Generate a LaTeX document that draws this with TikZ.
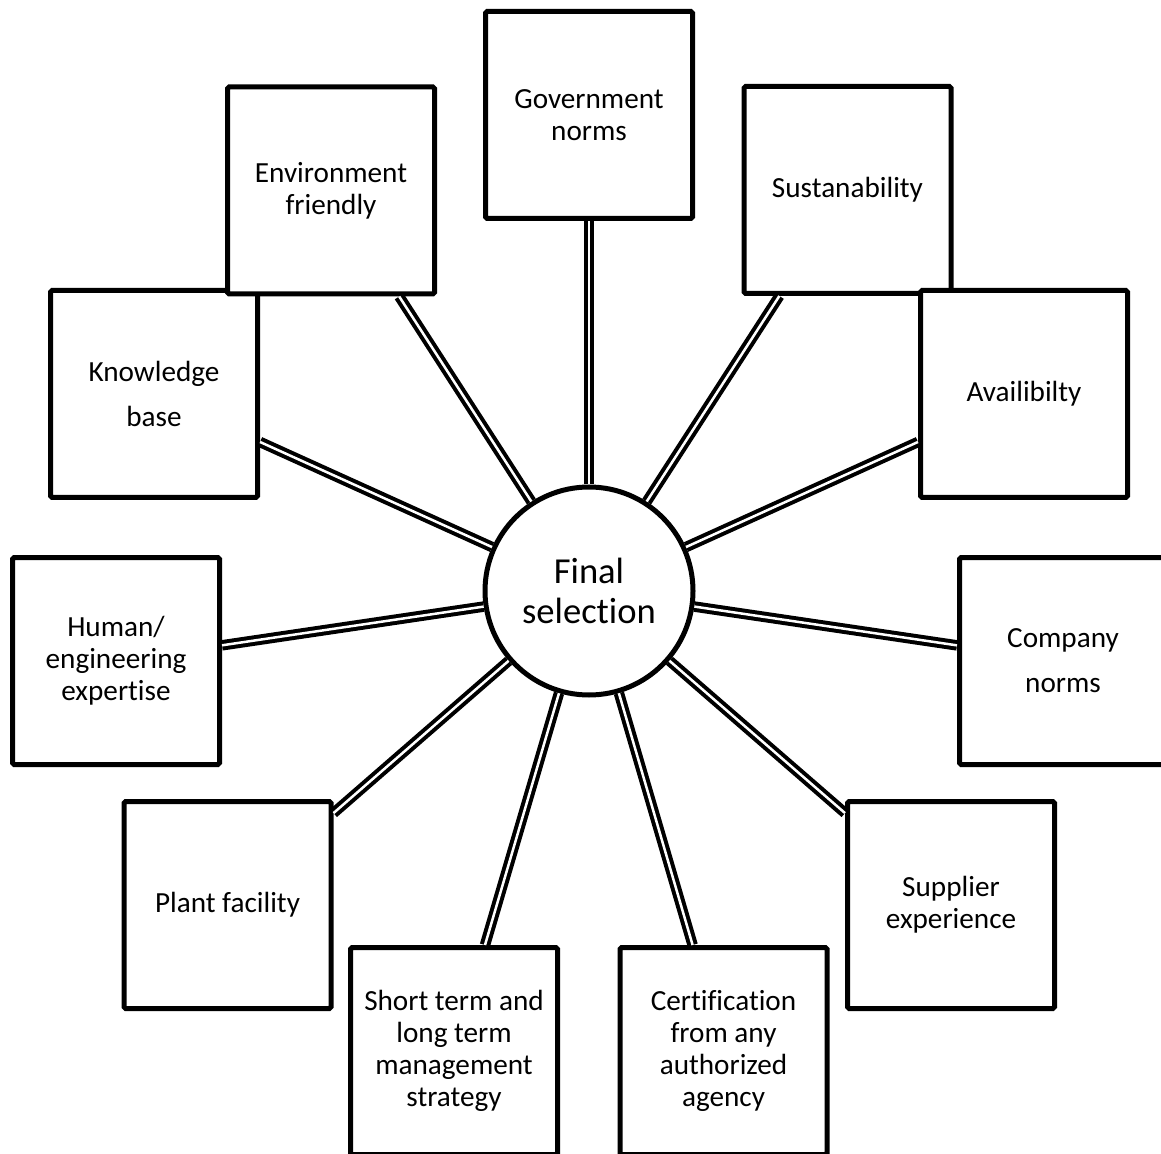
\documentclass[tikz,border=0pt]{standalone}
\usepackage{fontspec}
\setmainfont{Carlito}[Ligatures={NoCommon,NoRequired,NoContextual}]
\begin{document}
\begin{tikzpicture}[x=0.5pt, y=-0.5pt,
  factor/.style={draw, line width=2.5pt, fill=white, rounded corners=0.8pt, minimum width=103.5pt, minimum height=103.5pt, inner sep=2pt, align=center, font=\fontsize{14.6}{16}\selectfont},
  hub/.style={draw, circle, line width=2.5pt, fill=white, minimum size=104pt, inner sep=0pt, align=center, font=\fontsize{18.3}{20}\selectfont},
  link/.style={double, double distance=1.25pt, line width=2pt}]
  \useasboundingbox (0,0) rectangle (1161,1154);
  \node[hub] (fs) at (589,591) {Final\\selection};
  \node[factor] (gov) at (589,115) {Government\\norms};
  \node[factor] (know) at (154,394) {Knowledge\\[6.5pt]base};
  \node[factor] (envf) at (331,190.5) {Environment\\friendly};
  \node[factor] (sust) at (847.5,190) {Sustanability};
  \node[factor] (avail) at (1024,394) {Availibilty};
  \node[factor] (human) at (116,661) {Human/\\engineering\\expertise};
  \node[factor] (comp) at (1063,661) {Company\\[6.5pt]norms};
  \node[factor] (plant) at (227.5,905) {Plant facility};
  \node[factor] (supp) at (951,905) {Supplier\\experience};
  \node[factor] (strat) at (454,1051) {Short term and\\long term\\management\\strategy};
  \node[factor] (cert) at (723.5,1051) {Certification\\from any\\authorized\\agency};
  \foreach \n in {gov,know,envf,sust,avail,human,comp,plant,supp,strat,cert}
    \draw[link] (fs) -- (\n);
\end{tikzpicture}
\end{document}
